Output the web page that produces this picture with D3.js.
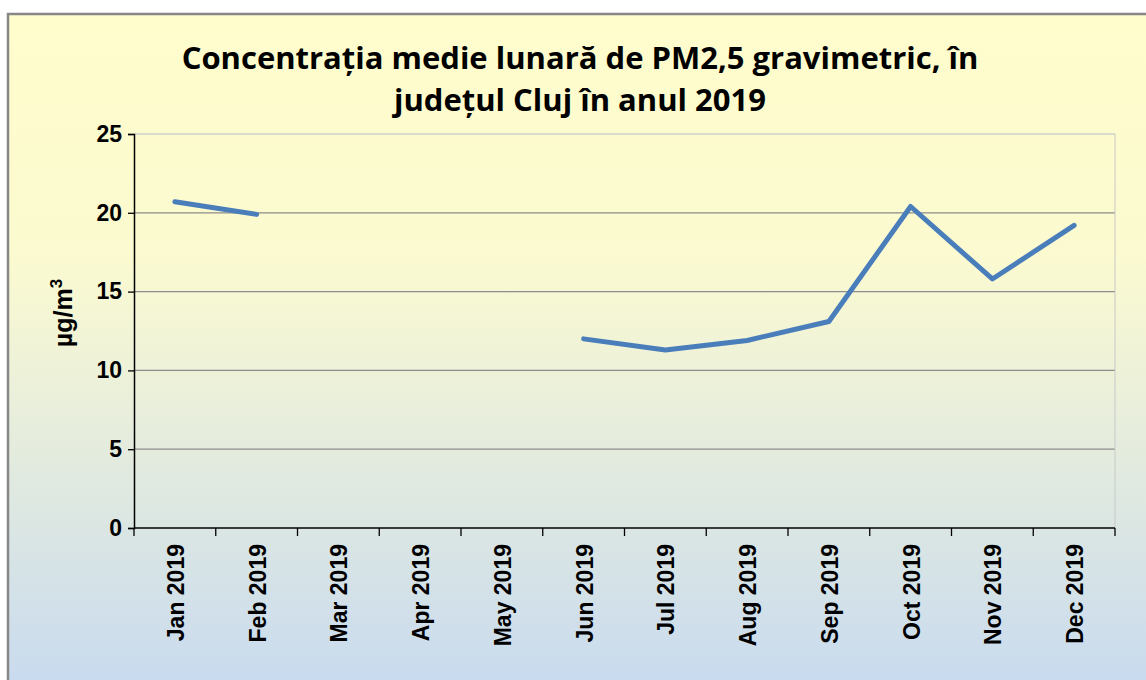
<!DOCTYPE html>
<html>
<head>
<meta charset="utf-8">
<script src="https://cdn.jsdelivr.net/npm/d3@7"></script>
<style>
body { margin: 0; background: #fff; }
</style>
</head>
<body>
<svg></svg>
<script>
var months = ["Jan 2019", "Feb 2019", "Mar 2019", "Apr 2019", "May 2019", "Jun 2019",
              "Jul 2019", "Aug 2019", "Sep 2019", "Oct 2019", "Nov 2019", "Dec 2019"];
var pm25 = [20.7, 19.9, null, null, null, 12.0, 11.3, 11.9, 13.1, 20.4, 15.8, 19.2];
var yTicks = [0, 5, 10, 15, 20, 25];
var titleLines = ["Concentrația medie lunară de PM2,5 gravimetric, în", "județul Cluj în anul 2019"];

var margin = {top: 134, right: 31, bottom: 152, left: 134};
var width = 1146, height = 680;
var visWidth = width - margin.left - margin.right;
var visHeight = height - margin.top - margin.bottom;

var svg = d3.select("svg")
    .attr("width", width)
    .attr("height", height);

var grad = svg.append("defs").append("linearGradient")
    .attr("id", "bg")
    .attr("x1", 0).attr("y1", 0).attr("x2", 0).attr("y2", 1);
grad.append("stop").attr("offset", "0").attr("stop-color", "#fffdcc");
grad.append("stop").attr("offset", "0.35").attr("stop-color", "#fbfad0");
grad.append("stop").attr("offset", "1").attr("stop-color", "#c6d9f0");

svg.append("rect")
    .attr("x", 8).attr("y", 14)
    .attr("width", width + 10).attr("height", height + 10)
    .attr("fill", "url(#bg)")
    .attr("stroke", "#878787")
    .attr("stroke-width", 2.5);

svg.selectAll(".title")
    .data(titleLines)
    .enter().append("text")
    .attr("class", "title")
    .attr("x", 580)
    .attr("y", function(d, i) { return 69 + i * 42; })
    .attr("text-anchor", "middle")
    .style("font-family", "'Open Sans', Lato, sans-serif")
    .style("font-weight", "bold")
    .style("font-size", "31px")
    .text(function(d) { return d; });

var g = svg.append("g")
    .attr("transform", "translate(" + margin.left + "," + margin.top + ")");

var x = d3.scaleBand()
    .domain(months)
    .range([0, visWidth]);

var y = d3.scaleLinear()
    .domain([0, 25])
    .range([visHeight, 0]);

// grid
g.selectAll(".grid")
    .data(yTicks.slice(1))
    .enter().append("line")
    .attr("x1", 0).attr("x2", visWidth)
    .attr("y1", function(d) { return y(d); })
    .attr("y2", function(d) { return y(d); })
    .attr("stroke", function(d) { return d === 25 ? "#b4bccc" : "#8c8c8c"; })
    .attr("stroke-width", 1.2);

g.append("line")
    .attr("x1", visWidth).attr("x2", visWidth)
    .attr("y1", 0).attr("y2", visHeight)
    .attr("stroke", "#c8c8c8");

var yAxis = g.append("g")
    .call(d3.axisLeft(y).tickValues(yTicks).tickSize(6).tickPadding(6));
yAxis.select(".domain").attr("stroke", "#000").attr("stroke-width", 1.5);
yAxis.selectAll("line").attr("stroke", "#000").attr("stroke-width", 1.3);
yAxis.selectAll("text")
    .style("font-family", "'Liberation Sans', Arial, sans-serif")
    .style("font-weight", "bold")
    .style("font-size", "23px")
    .attr("fill", "#000");

var xAxis = g.append("g")
    .attr("transform", "translate(0," + visHeight + ")");
xAxis.append("line")
    .attr("x1", 0).attr("x2", visWidth)
    .attr("stroke", "#000").attr("stroke-width", 1.5);
xAxis.selectAll(".tick")
    .data(d3.range(months.length + 1))
    .enter().append("line")
    .attr("x1", function(i) { return i * x.step(); })
    .attr("x2", function(i) { return i * x.step(); })
    .attr("y1", 0).attr("y2", 8)
    .attr("stroke", "#000").attr("stroke-width", 1.3);
xAxis.selectAll(".lab")
    .data(months)
    .enter().append("text")
    .attr("transform", function(d) {
        return "translate(" + (x(d) + x.bandwidth() / 2 + 9) + ",16) rotate(-90)";
    })
    .attr("text-anchor", "end")
    .style("font-family", "'Liberation Sans', Arial, sans-serif")
    .style("font-weight", "bold")
    .style("font-size", "23px")
    .text(function(d) { return d; });

svg.append("text")
    .attr("transform", "translate(72,313) rotate(-90)")
    .attr("text-anchor", "middle")
    .style("font-family", "'Liberation Sans', Arial, sans-serif")
    .style("font-weight", "bold")
    .style("font-size", "25px")
    .html("µg/m<tspan dy='-10' font-size='17px'>3</tspan>");

var line = d3.line()
    .defined(function(d) { return d != null; })
    .x(function(d, i) { return x(months[i]) + x.bandwidth() / 2; })
    .y(function(d) { return y(d); });

g.append("path")
    .datum(pm25)
    .attr("fill", "none")
    .attr("stroke", "#4a7ebb")
    .attr("stroke-width", 5)
    .attr("stroke-linecap", "round")
    .attr("stroke-linejoin", "round")
    .attr("d", line);
</script>
</body>
</html>
